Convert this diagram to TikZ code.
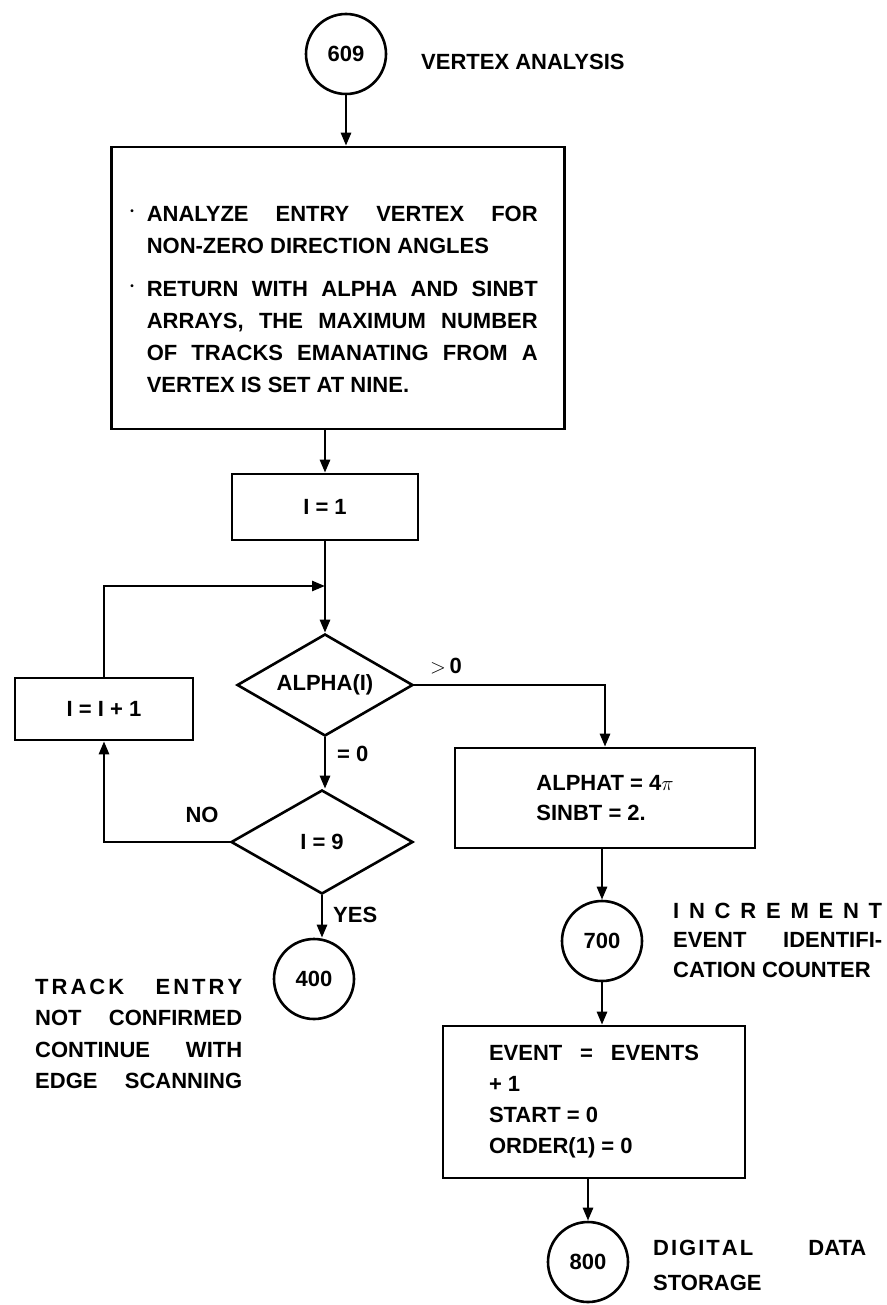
\documentclass[tikz,border=0pt]{standalone}
\usepackage{fontspec}
\setmainfont{Liberation Sans}
\usetikzlibrary{shapes.geometric,arrows.meta}
\newcommand\spr[2]{\makebox[#1][s]{#2}}
\newcommand\ks{\kern3pt}
\newcommand\bul{\raisebox{7pt}{\fontsize{10}{10}\selectfont\textbullet}}
\begin{document}
\begin{tikzpicture}[x=1pt,y=-1pt,
  every node/.style={font=\fontsize{22}{32}\selectfont\bfseries},
  proc/.style={draw,line width=2.6pt,rectangle,inner sep=0pt},
  conn/.style={draw,line width=2.6pt,circle,minimum size=80pt,inner sep=0pt},
  dec/.style={draw,line width=2.6pt,diamond,aspect=1.7,inner sep=0pt},
  flow/.style={line width=2.6pt,-{Triangle[length=13pt,width=10pt]}},
  note/.style={align=left,inner sep=0pt}]
\useasboundingbox (0,0) rectangle (886,1305);

% nodes
\node[conn] (c609) at (346,54) {609};
\node[note,anchor=west] (t609) at (421,62) {VERTEX ANALYSIS};
\node[proc,minimum width=453pt,minimum height=282pt] (b1) at (338,288) {};
\node[note] (b1t) at (334,301) {\begin{tabular}{@{}c@{\hspace{13pt}}l@{}}
\bul & \spr{391pt}{ANALYZE ENTRY VERTEX FOR}\\
     & NON-ZERO DIRECTION ANGLES\\[11pt]
\bul & \spr{391pt}{RETURN WITH ALPHA AND SINBT}\\
     & \spr{391pt}{ARRAYS, THE MAXIMUM NUMBER}\\
     & \spr{391pt}{OF TRACKS EMANATING FROM A}\\
     & VERTEX IS SET AT NINE.
\end{tabular}};
\node[proc,minimum width=186pt,minimum height=66pt] (i1) at (325,507) {I = 1};
\coordinate (j) at (325,586);
\node[dec,minimum width=176pt,minimum height=102pt] (dA) at (325,685) {ALPHA(I)};
\node[proc,minimum width=178pt,minimum height=62pt] (inc) at (104,709) {I = I + 1};
\node[dec,minimum width=182pt,minimum height=104pt] (dB) at (322,842) {I = 9};
\node[conn] (c400) at (314,979) {400};
\node[proc,minimum width=300pt,minimum height=100pt,align=left,font=\fontsize{22}{30}\selectfont\bfseries] (alp) at (605,798) {ALPHAT = 4$\pi$\\SINBT = 2.};
\node[conn] (c700) at (602,941) {700};
\node[proc,minimum width=302pt,minimum height=152pt,align=left,font=\fontsize{22}{31}\selectfont\bfseries] (ev) at (594,1102) {\spr{210pt}{EVENT = EVENTS}\\+ 1\\START = 0\\ORDER(1) = 0};
\node[conn] (c800) at (588,1262) {800};

% labels
\node[note] (lgt) at (446,666) {$>$\,0};
\node[note,anchor=west] (leq) at (337,754) {= 0};
\node[note] (lno) at (202,815) {NO};
\node[note,anchor=west] (lyes) at (333,915) {YES};
\node[note,anchor=west,font=\fontsize{22}{31.5}\selectfont\bfseries] (ltrack) at (35,1034)
  {\spr{207pt}{T\ks R\ks A\ks C\ks K E\ks N\ks T\ks R\ks Y}\\
   \spr{207pt}{NOT CONFIRMED}\\
   \spr{207pt}{CONTINUE WITH}\\
   \spr{207pt}{EDGE SCANNING}};
\node[note,anchor=west,font=\fontsize{22}{29.5}\selectfont\bfseries] (linc) at (673,940)
  {\spr{209pt}{I N C R E M E N T}\\\spr{209pt}{EVENT IDENTIFI-}\\CATION COUNTER};
\node[note,anchor=west,font=\fontsize{22}{35}\selectfont\bfseries] (ldig) at (653,1265)
  {\spr{213pt}{D\kern2pt I\kern2pt G\kern2pt I\kern2pt T\kern2pt A\kern2pt L DATA}\\STORAGE};

% connectors
\draw[flow] (c609.south) -- (c609.south |- b1.north);
\draw[flow] (i1.north |- b1.south) -- (i1.north);
\draw[flow] (i1.south) -- (dA.north);
\draw[flow] (inc.north) |- (j);
\draw[flow] (dA.south) -- (dA.south |- dB.north);
\draw[flow] (dA.east) -| (alp.north);
\draw[flow] (dB.west) -| (inc.south);
\draw[flow] (dB.south) -- (dB.south |- c400.north);
\draw[flow] (c700.north |- alp.south) -- (c700.north);
\draw[flow] (c700.south) -- (c700.south |- ev.north);
\draw[flow] (c800.north |- ev.south) -- (c800.north);
\end{tikzpicture}
\end{document}
